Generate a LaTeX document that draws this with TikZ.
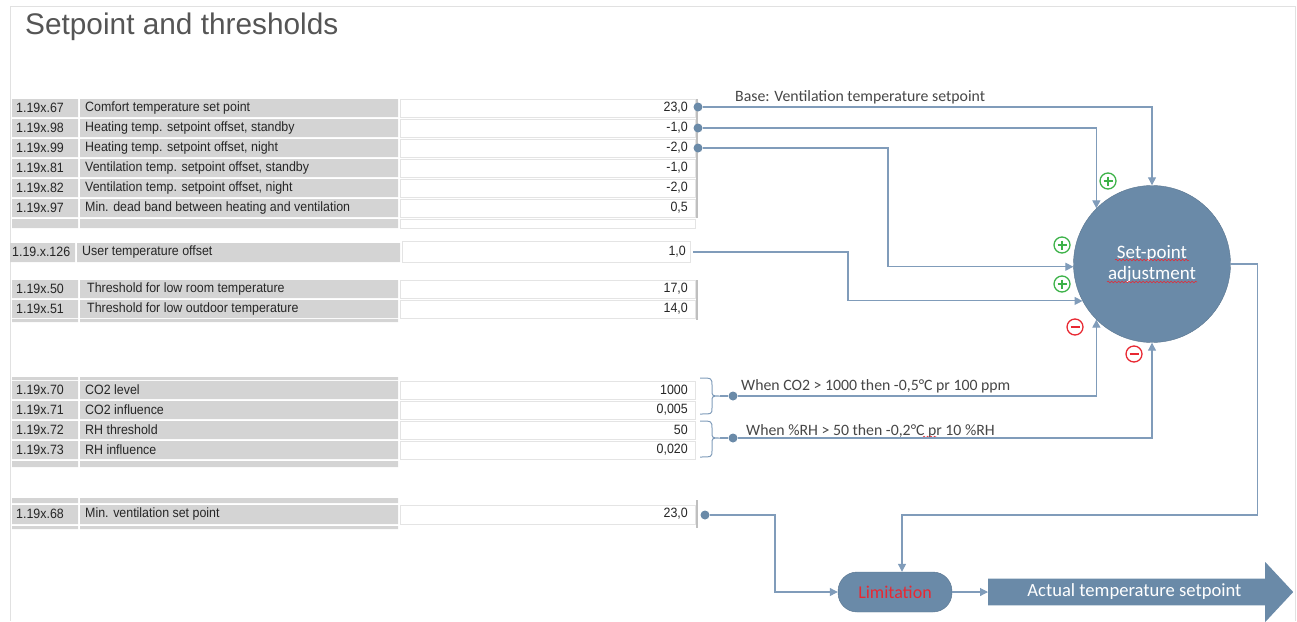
\documentclass[tikz,border=0pt]{standalone}
\usepackage{fontspec}
\setmainfont{Liberation Sans}
\newfontfamily\calfont{Carlito}
\newfontfamily\tabfont[FakeStretch=0.92]{Liberation Sans}
\usetikzlibrary{arrows.meta,shapes.arrows,shapes.geometric,decorations.pathmorphing,positioning}

\definecolor{cellgray}{RGB}{212,212,212}
\definecolor{gridline}{RGB}{228,228,228}
\definecolor{framegray}{RGB}{225,225,225}
\definecolor{linkblue}{RGB}{128,156,186}
\definecolor{nodeblue}{RGB}{106,138,168}
\definecolor{txtgray}{RGB}{70,70,70}
\definecolor{titlegray}{RGB}{85,85,85}
\definecolor{signgreen}{RGB}{60,178,72}
\definecolor{signred}{RGB}{232,40,50}

\begin{document}
\begin{tikzpicture}[x=1pt,y=-1pt,
    tab/.style={font=\tabfont\fontsize{13.5}{15}\selectfont, text=black!85, inner sep=0pt},
    lbl/.style={font=\calfont\fontsize{15.8}{18}\selectfont, text=txtgray, inner sep=0pt, anchor=west},
    dot/.style={circle, fill=nodeblue, inner sep=0pt, minimum size=9pt},
    link/.style={draw=linkblue, line width=1.1pt},
    conn/.style={link, -{Triangle[length=8pt,width=8pt]}},
    plussign/.style={circle, draw=signgreen, fill=white, line width=1.3pt, minimum size=16pt, inner sep=0pt,
        path picture={\draw[signgreen, line width=2.8pt] (path picture bounding box.center) +(-4.5,0) -- +(4.5,0)
            (path picture bounding box.center) +(0,-4.5) -- +(0,4.5);}},
    minussign/.style={circle, draw=signred, fill=white, line width=1.3pt, minimum size=16pt, inner sep=0pt,
        path picture={\draw[signred, line width=2.8pt] (path picture bounding box.center) +(-4.5,0) -- +(4.5,0);}},
    wavy/.style={signred, line width=0.5pt, decorate, decoration={snake, amplitude=0.8pt, segment length=3.5pt}}
]
\useasboundingbox (0,0) rectangle (1297,621);
\draw[framegray] (10,621) -- (10,6) -- (1295,6) -- (1295,621);

\node[font=\fontsize{29.8}{34}\selectfont, text=titlegray, anchor=base west, inner sep=0pt] (title) at (25,34) {Setpoint and thresholds};

% table: setpoints
\foreach \y/\id/\txt/\val in {108/67/{Comfort temperature set point}/{23,0},
    128/98/{Heating temp. setpoint offset, standby}/{-1,0},
    148/99/{Heating temp. setpoint offset, night}/{-2,0},
    168/81/{Ventilation temp. setpoint offset, standby}/{-1,0},
    188/82/{Ventilation temp. setpoint offset, night}/{-2,0},
    208/97/{Min. dead band between heating and ventilation}/{0,5}}{
  \fill[cellgray] (12,\y-9) rectangle (78,\y+9) (80,\y-9) rectangle (398,\y+9);
  \draw[gridline] (400,\y-9) rectangle (695,\y+9);
  \node[tab, anchor=west] (c\id) at (16,\y) {1.19x.\id};
  \node[tab, anchor=west] (n\id) at (85,\y) {\txt};
  \node[tab, anchor=east] (v\id) at (688,\y) {\val};
}
\fill[cellgray] (12,219) rectangle (78,228) (80,219) rectangle (398,228);
\draw[gridline] (400,219) rectangle (695,228);
\draw[black!25, line width=1.5pt] (697,99) -- (697,218);

% table: user offset
\fill[cellgray] (10,243) rectangle (75,262) (77,243) rectangle (400,262);
\draw[gridline] (402,241) rectangle (690,262);
\node[tab, anchor=west] (c126) at (12,252) {1.19.x.126};
\node[tab, anchor=west] (n126) at (82,252) {User temperature offset};
\node[tab, anchor=east] (v126) at (686,252) {1,0};
\coordinate (u126) at (693,252);

% table: thresholds
\foreach \y/\id/\txt/\val in {289/50/{Threshold for low room temperature}/{17,0},
    309/51/{Threshold for low outdoor temperature}/{14,0}}{
  \fill[cellgray] (12,\y-9) rectangle (78,\y+9) (80,\y-9) rectangle (398,\y+9);
  \draw[gridline] (400,\y-9) rectangle (695,\y+9);
  \node[tab, anchor=west] (c\id) at (16,\y) {1.19x.\id};
  \node[tab, anchor=west] (n\id) at (87,\y) {\txt};
  \node[tab, anchor=east] (v\id) at (688,\y) {\val};
}
\fill[cellgray] (12,319) rectangle (78,322) (80,319) rectangle (398,322);
\draw[black!25, line width=1.5pt] (697,280) -- (697,320);

% table: air quality
\fill[cellgray] (12,377) rectangle (78,380) (80,377) rectangle (398,380);
\foreach \y/\id/\txt/\val in {390/70/{CO2 level}/{1000},
    410/71/{CO2 influence}/{0,005},
    430/72/{RH threshold}/{50},
    450/73/{RH influence}/{0,020}}{
  \fill[cellgray] (12,\y-9) rectangle (78,\y+9) (80,\y-9) rectangle (398,\y+9);
  \draw[gridline] (400,\y-9) rectangle (695,\y+9);
  \node[tab, anchor=west] (c\id) at (16,\y) {1.19x.\id};
  \node[tab, anchor=west] (n\id) at (85,\y) {\txt};
  \node[tab, anchor=east] (v\id) at (688,\y) {\val};
}
\fill[cellgray] (12,461) rectangle (78,467) (80,461) rectangle (398,467);

% table: min ventilation
\fill[cellgray] (12,498) rectangle (78,503) (80,498) rectangle (398,503);
\fill[cellgray] (12,505) rectangle (78,524) (80,505) rectangle (398,524);
\draw[gridline] (400,505) rectangle (695,524);
\fill[cellgray] (12,526) rectangle (78,529) (80,526) rectangle (398,529);
\node[tab, anchor=west] (c68) at (16,514) {1.19x.68};
\node[tab, anchor=west] (n68) at (85,514) {Min. ventilation set point};
\node[tab, anchor=east] (v68) at (688,514) {23,0};
\draw[black!25, line width=1.5pt] (697,500) -- (697,528);

% braces
\draw[linkblue, line width=1pt] (700,378) .. controls (712,378) .. (712,386) -- (712,390)
    .. controls (712,396) .. (720,396) .. controls (712,396) .. (712,402) -- (712,408)
    .. controls (712,414) .. (700,414);
\draw[linkblue, line width=1pt] (700,421) .. controls (712,421) .. (712,429) -- (712,432)
    .. controls (712,438) .. (720,438) .. controls (712,438) .. (712,444) -- (712,450)
    .. controls (712,457) .. (700,457);
\coordinate (k70) at (720,396);
\coordinate (k72) at (720,438);

% dots
\node[dot] (d67) at (698,107) {};
\node[dot] (d98) at (698,128) {};
\node[dot] (d99) at (698,148) {};
\node[dot] (b70) at (733,396) {};
\node[dot] (b72) at (733,438) {};
\node[dot] (d68) at (705,515) {};

% blocks
\node[circle, fill=nodeblue, draw=nodeblue!85!black, minimum size=157pt, inner sep=0pt, text=white,
    font=\calfont\fontsize{19}{21}\selectfont, align=center] (adj) at (1152,264) {Set-point\\adjustment};
\node[rectangle, rounded corners=19pt, fill=nodeblue, draw=nodeblue!85!black, minimum width=114pt,
    minimum height=40pt, text=signred, font=\calfont\fontsize{18}{21}\selectfont] (lim) at (895,592) {Limitation};
\node[single arrow, fill=nodeblue, minimum height=305pt, minimum width=60pt, single arrow head extend=10pt,
    single arrow tip angle=94, inner sep=0pt, anchor=tail, text=white,
    font=\calfont\fontsize{18.6}{21}\selectfont] (out) at (988,592) {Actual temperature setpoint};

% spelling marks
\draw[wavy] ([shift={(-37,-4)}]adj.center) -- ++(74,0);
\draw[wavy] ([shift={(-45,18)}]adj.center) -- ++(90,0);

% labels
\node[lbl] (lbase) at (735,97) {Base: Ventilation temperature setpoint};
\node[lbl] (lco2) at (741,386) {When CO2 > 1000 then -0,5°C pr 100 ppm};
\node[lbl] (lrh) at (746,431) {When \%RH > 50 then -0,2°C pr 10 \%RH};
\draw[wavy] ([shift={(177,6)}]lrh.west) -- ++(14,0);

% connectors
\draw[conn] (d67) -| (adj.north);
\draw[conn] (d98) -| (adj.135);
\draw[conn] (d99) -- ++(190,0) |- (adj.182);
\draw[conn] (u126) -- ++(155,0) |- (adj.208);
\draw[link] (k70) -- (b70);
\draw[link] (k72) -- (b72);
\draw[conn] (b70) -| (adj.225);
\draw[conn] (b72) -| (adj.south);
\draw[conn] (adj.east) -- ++(27,0) -- ++(0,251) -| ([xshift=7pt]lim.north);
\draw[conn] (d68) -- ++(70,0) |- (lim.west);
\draw[conn] (lim.east) -- (out.tail);

% signs
\node[plussign] (s1) at (1108,181) {};
\node[plussign] (s2) at (1062,245) {};
\node[plussign] (s3) at (1062,284) {};
\node[minussign] (m1) at (1075,327) {};
\node[minussign] (m2) at (1134,354) {};
\end{tikzpicture}
\end{document}
